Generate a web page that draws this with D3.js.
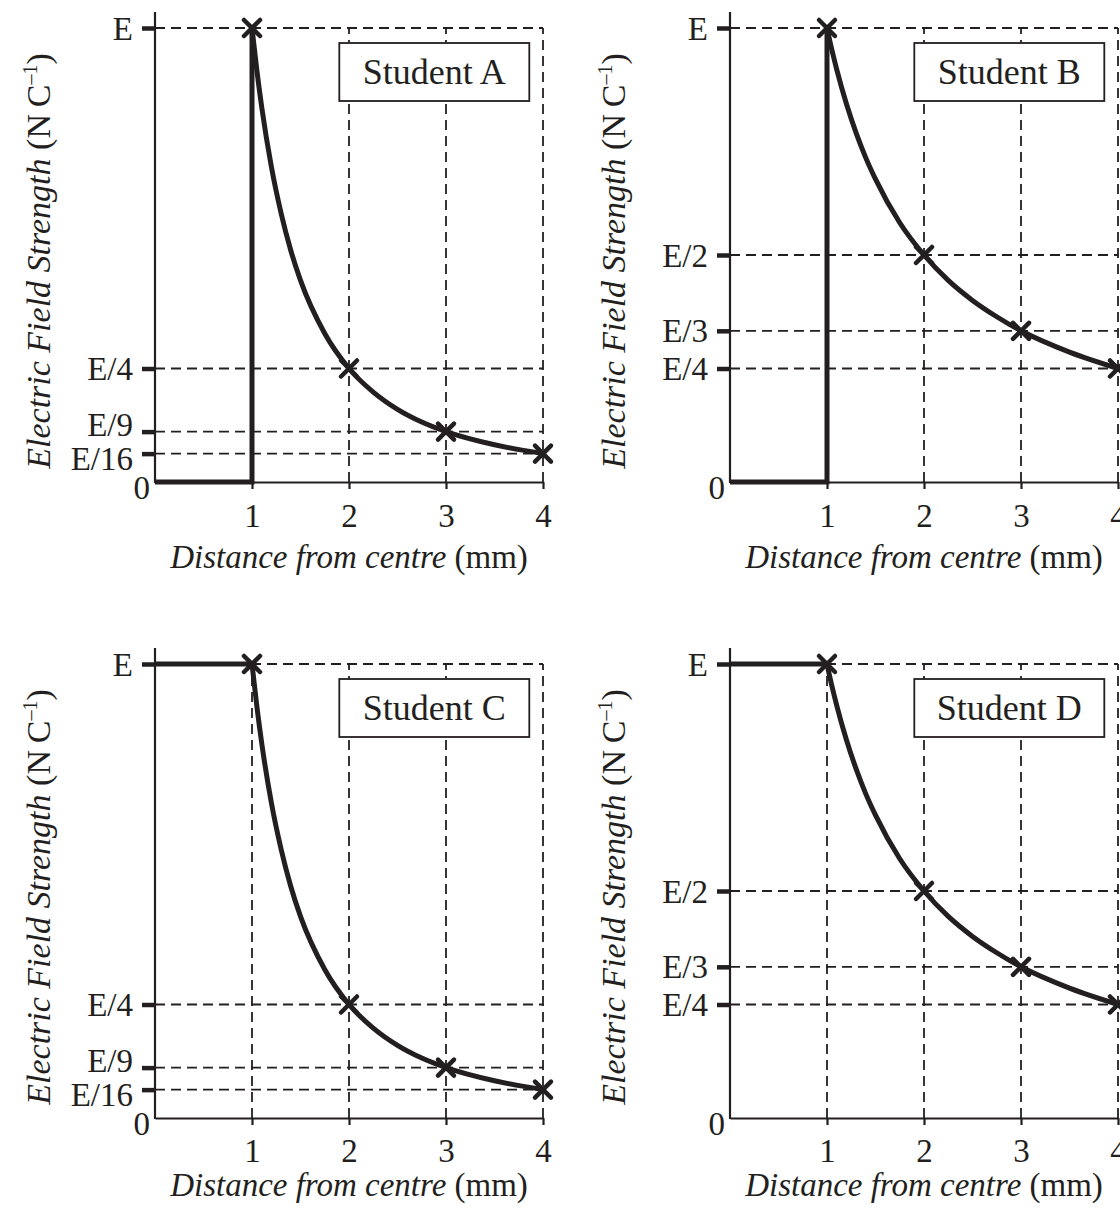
<!DOCTYPE html>
<html>
<head>
<meta charset="utf-8">
<script src="https://cdn.jsdelivr.net/npm/d3@7"></script>
<style>
body { margin: 0; background: #fff; }
svg { display: block; }
text { font-family: 'Liberation Serif', 'DejaVu Serif', serif; fill: #231f20; }
</style>
</head>
<body>
<div id="chart"></div>
<script>
const xTicks = [1, 2, 3, 4];
const sampleX = [1, 1.05, 1.1, 1.2, 1.3, 1.4, 1.5, 1.75, 2, 2.25, 2.5, 2.75, 3, 3.5, 4];
const inverseSquare = [1, 0.907, 0.826, 0.694, 0.592, 0.51, 0.444, 0.327, 0.25, 0.198, 0.16, 0.132, 0.111, 0.082, 0.0625];
const inverse = [1, 0.952, 0.909, 0.833, 0.769, 0.714, 0.667, 0.571, 0.5, 0.444, 0.4, 0.364, 0.333, 0.286, 0.25];
const markX = [1, 2, 3, 4];
const markSquare = [1, 0.25, 0.111, 0.0625];
const markInverse = [1, 0.5, 0.333, 0.25];
const levelsSquare = [1, 0.25, 0.111, 0.0625];
const labelsSquare = ['E', 'E/4', 'E/9', 'E/16'];
const levelsInverse = [1, 0.5, 0.333, 0.25];
const labelsInverse = ['E', 'E/2', 'E/3', 'E/4'];
const insideStepX = [0, 1, 1];
const insideZero = [0, 0, 1];
const insideFlatX = [0, 1];
const insideFlat = [1, 1];
const studentNames = ['Student A', 'Student B', 'Student C', 'Student D'];

const ink = '#231f20';
const fontSize = 33;

let svg = d3.select('#chart').append('svg')
    .attr('width', 1120)
    .attr('height', 1209);

// bottom row sits tighter on its labels (the page is cut close there)
let panels = [
    {name: studentNames[0], x0: 155, y0: 482, pad: 15, title: 86, outX: sampleX, outY: inverseSquare, mk: markSquare, lv: levelsSquare, lb: labelsSquare, inX: insideStepX, inY: insideZero},
    {name: studentNames[1], x0: 730, y0: 482, pad: 15, title: 86, outX: sampleX, outY: inverse, mk: markInverse, lv: levelsInverse, lb: labelsInverse, inX: insideStepX, inY: insideZero},
    {name: studentNames[2], x0: 155, y0: 1118, pad: 14, title: 78, outX: sampleX, outY: inverseSquare, mk: markSquare, lv: levelsSquare, lb: labelsSquare, inX: insideFlatX, inY: insideFlat},
    {name: studentNames[3], x0: 730, y0: 1118, pad: 14, title: 78, outX: sampleX, outY: inverse, mk: markInverse, lv: levelsInverse, lb: labelsInverse, inX: insideFlatX, inY: insideFlat}
];

let drawPanel = function(p) {
    let x = d3.scaleLinear().domain([0, 4]).range([p.x0, p.x0 + 388]);
    let y = d3.scaleLinear().domain([0, 1]).range([p.y0, p.y0 - 454]);
    let g = svg.append('g');

    // dashed guide lines
    p.lv.forEach(function(v) {
        g.append('line')
            .attr('x1', x(0)).attr('x2', x(4))
            .attr('y1', y(v)).attr('y2', y(v))
            .attr('stroke', ink).attr('stroke-width', 1.8)
            .attr('stroke-dasharray', '10,6');
    });
    xTicks.forEach(function(v) {
        g.append('line')
            .attr('x1', x(v)).attr('x2', x(v))
            .attr('y1', y(0)).attr('y2', y(1))
            .attr('stroke', ink).attr('stroke-width', 1.8)
            .attr('stroke-dasharray', '10,6');
    });

    // name box
    let bx = x(1.9), by = y(1) + 15;
    g.append('rect')
        .attr('x', bx).attr('y', by)
        .attr('width', 190).attr('height', 58)
        .attr('fill', '#fff').attr('stroke', ink).attr('stroke-width', 1.8);
    g.append('text')
        .attr('x', bx + 95).attr('y', by + 41)
        .attr('text-anchor', 'middle')
        .style('font-size', '36px')
        .text(p.name);

    // x axis
    let xAxis = g.append('g')
        .attr('transform', 'translate(0,' + y(0) + ')')
        .call(d3.axisBottom(x).tickValues(xTicks).tickFormat(d3.format('d'))
            .tickSize(7).tickSizeOuter(0).tickPadding(p.pad));
    xAxis.select('.domain').attr('stroke', ink).attr('stroke-width', 2.2);
    xAxis.selectAll('.tick line').attr('stroke', ink).attr('stroke-width', 2.2);
    xAxis.selectAll('.tick text')
        .attr('fill', ink)
        .style('font-family', "'Liberation Serif', serif")
        .style('font-size', fontSize + 'px');

    // y axis
    g.append('line')
        .attr('x1', x(0)).attr('x2', x(0))
        .attr('y1', y(0) + 1).attr('y2', y(1) - 16)
        .attr('stroke', ink).attr('stroke-width', 2.2);
    let yAxis = g.append('g')
        .attr('transform', 'translate(' + x(0) + ',0)')
        .call(d3.axisLeft(y).tickValues(p.lv).tickFormat(function(d, i) { return p.lb[i]; }).tickSize(13).tickPadding(9));
    yAxis.select('.domain').remove();
    yAxis.selectAll('.tick line').attr('stroke', ink).attr('stroke-width', 4.5);
    let tickTexts = yAxis.selectAll('.tick text')
        .attr('fill', ink)
        .style('font-family', "'Liberation Serif', serif")
        .style('font-size', fontSize + 'px');
    // spread labels that sit too close together
    let pos = p.lv.map(function(v) { return y(v); });
    let shift = pos.map(function() { return 0; });
    for (let i = 1; i < pos.length; i++) {
        let gap = (pos[i] + shift[i]) - (pos[i - 1] + shift[i - 1]);
        if (gap < 34) {
            let need = (34 - gap) / 2;
            shift[i] += need - 1;
            shift[i - 1] -= need + 1;
        }
    }
    tickTexts.attr('dy', function(d, i) { return (shift[i] + 11) + 'px'; });

    g.append('text')
        .attr('x', x(0) - 5).attr('y', y(0) + 17)
        .attr('text-anchor', 'end')
        .style('font-size', fontSize + 'px')
        .text('0');

    // axis titles
    let xt = g.append('text')
        .attr('x', x(0) + 194).attr('y', y(0) + p.title)
        .attr('text-anchor', 'middle')
        .style('font-size', fontSize + 'px');
    xt.append('tspan').style('font-style', 'italic').text('Distance from centre');
    xt.append('tspan').text(' (mm)');

    let yt = g.append('text')
        .attr('transform', 'translate(' + (x(0) - 105) + ',' + (y(0) - 221) + ') rotate(-90)')
        .attr('text-anchor', 'middle')
        .style('font-size', '34px');
    yt.append('tspan').style('font-style', 'italic').text('Electric Field Strength');
    yt.append('tspan').text(' (N\u2009C');
    yt.append('tspan').attr('dy', -13).style('font-size', '20px').text('\u20131');
    yt.append('tspan').attr('dy', 13).text(')');

    // the sketched field lines
    let line = d3.line()
        .x(function(d) { return x(d[0]); })
        .y(function(d) { return y(d[1]); });
    g.append('path')
        .datum(p.inX.map(function(v, i) { return [v, p.inY[i]]; }))
        .attr('d', line)
        .attr('fill', 'none').attr('stroke', ink).attr('stroke-width', 5)
        .attr('stroke-linejoin', 'miter');
    g.append('path')
        .datum(p.outX.map(function(v, i) { return [v, p.outY[i]]; }))
        .attr('d', line.curve(d3.curveMonotoneX))
        .attr('fill', 'none').attr('stroke', ink).attr('stroke-width', 5);

    // crosses
    markX.forEach(function(v, i) {
        g.append('path')
            .attr('transform', 'translate(' + x(v) + ',' + y(p.mk[i]) + ')')
            .attr('d', 'M-8,-8L8,8M8,-8L-8,8')
            .attr('stroke', ink).attr('stroke-width', 4.5)
            .attr('stroke-linecap', 'round');
    });
};

panels.forEach(drawPanel);
</script>
</body>
</html>
